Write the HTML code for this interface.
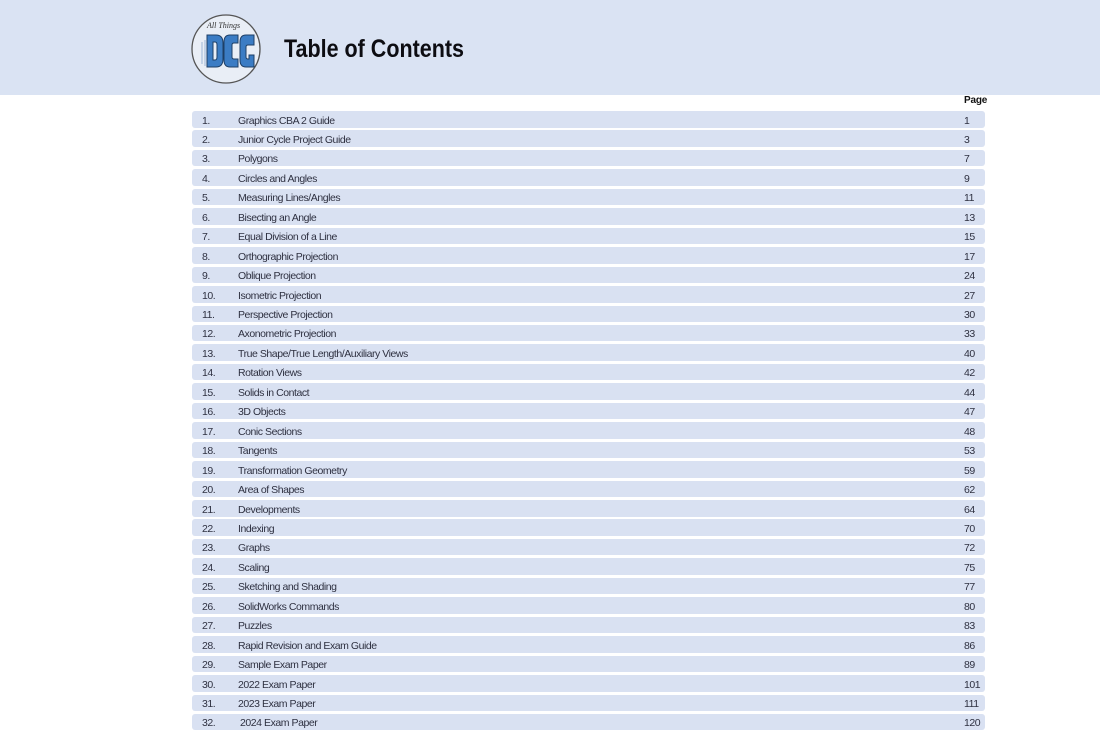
<!DOCTYPE html>
<html>
<head>
<meta charset="utf-8">
<style>
  html,body{margin:0;padding:0;}
  body{width:1100px;height:753px;background:#ffffff;position:relative;overflow:hidden;font-family:"Liberation Sans",sans-serif;}
  .band{position:absolute;left:0;top:0;width:1100px;height:95px;background:#dae3f3;}
  .title{position:absolute;left:284px;top:34px;font-size:25px;font-weight:bold;color:#0d0d12;line-height:30px;white-space:nowrap;transform:scaleX(0.86);transform-origin:0 0;}
  .logo{position:absolute;left:188px;top:12px;}
  .pagehd{position:absolute;left:964px;top:94px;font-size:10px;font-weight:bold;color:#111;line-height:14px;letter-spacing:-0.2px;}
  .row{position:absolute;left:192px;width:793px;height:16.5px;background:#d9e1f2;border-radius:3px;font-size:10.5px;color:#2e3040;letter-spacing:-0.45px;line-height:16.5px;}
  .row span{position:absolute;top:1.5px;white-space:nowrap;}
  .n{left:10px;}
  .t{left:46px;}
  .p{left:772px;}
</style>
</head>
<body>
<div class="band"></div>
<svg class="logo" width="80" height="80" viewBox="0 0 80 80">
  <circle cx="38" cy="37" r="34" fill="#e9eef6" stroke="#555" stroke-width="1.3"/>
  <text x="19" y="16" font-family="Liberation Serif, serif" font-style="italic" font-size="8" fill="#333">All Things</text>
  <path d="M14 30 v22 M17 28 v26" stroke="#8aa9cf" stroke-width="0.8"/>
  <g stroke="#1e3f66" stroke-width="1" fill="#3b7cc4">
    <path d="M19 23 h9 q7 0 7 8 v16 q0 8 -7 8 h-9 z M25 30 v18 h2 q2 0 2 -3 v-12 q0 -3 -2 -3 z" fill-rule="evenodd"/>
    <path d="M50 23 h-8 q-6 0 -6 7 v18 q0 7 6 7 h8 v-8 h-4 q-2 0 -2 -2 v-12 q0 -2 2 -2 h4 z"/>
    <path d="M66 23 h-8 q-6 0 -6 7 v18 q0 7 6 7 h8 v-12 h-5 v4 h-1 q-2 0 -2 -2 v-10 q0 -2 2 -2 h6 z"/>
  </g>
</svg>
<div class="title">Table of Contents</div>
<div class="pagehd">Page</div>

<div class="row" style="top:111px"><span class="n">1.</span><span class="t">Graphics CBA 2 Guide</span><span class="p">1</span></div>
<div class="row" style="top:130.45px"><span class="n">2.</span><span class="t">Junior Cycle Project Guide</span><span class="p">3</span></div>
<div class="row" style="top:149.9px"><span class="n">3.</span><span class="t">Polygons</span><span class="p">7</span></div>
<div class="row" style="top:169.35px"><span class="n">4.</span><span class="t">Circles and Angles</span><span class="p">9</span></div>
<div class="row" style="top:188.8px"><span class="n">5.</span><span class="t">Measuring Lines/Angles</span><span class="p">11</span></div>
<div class="row" style="top:208.25px"><span class="n">6.</span><span class="t">Bisecting an Angle</span><span class="p">13</span></div>
<div class="row" style="top:227.7px"><span class="n">7.</span><span class="t">Equal Division of a Line</span><span class="p">15</span></div>
<div class="row" style="top:247.15px"><span class="n">8.</span><span class="t">Orthographic Projection</span><span class="p">17</span></div>
<div class="row" style="top:266.6px"><span class="n">9.</span><span class="t">Oblique Projection</span><span class="p">24</span></div>
<div class="row" style="top:286.05px"><span class="n">10.</span><span class="t">Isometric Projection</span><span class="p">27</span></div>
<div class="row" style="top:305.5px"><span class="n">11.</span><span class="t">Perspective Projection</span><span class="p">30</span></div>
<div class="row" style="top:324.95px"><span class="n">12.</span><span class="t">Axonometric Projection</span><span class="p">33</span></div>
<div class="row" style="top:344.4px"><span class="n">13.</span><span class="t">True Shape/True Length/Auxiliary Views</span><span class="p">40</span></div>
<div class="row" style="top:363.85px"><span class="n">14.</span><span class="t">Rotation Views</span><span class="p">42</span></div>
<div class="row" style="top:383.3px"><span class="n">15.</span><span class="t">Solids in Contact</span><span class="p">44</span></div>
<div class="row" style="top:402.75px"><span class="n">16.</span><span class="t">3D Objects</span><span class="p">47</span></div>
<div class="row" style="top:422.2px"><span class="n">17.</span><span class="t">Conic Sections</span><span class="p">48</span></div>
<div class="row" style="top:441.65px"><span class="n">18.</span><span class="t">Tangents</span><span class="p">53</span></div>
<div class="row" style="top:461.1px"><span class="n">19.</span><span class="t">Transformation Geometry</span><span class="p">59</span></div>
<div class="row" style="top:480.55px"><span class="n">20.</span><span class="t">Area of Shapes</span><span class="p">62</span></div>
<div class="row" style="top:500px"><span class="n">21.</span><span class="t">Developments</span><span class="p">64</span></div>
<div class="row" style="top:519.45px"><span class="n">22.</span><span class="t">Indexing</span><span class="p">70</span></div>
<div class="row" style="top:538.9px"><span class="n">23.</span><span class="t">Graphs</span><span class="p">72</span></div>
<div class="row" style="top:558.35px"><span class="n">24.</span><span class="t">Scaling</span><span class="p">75</span></div>
<div class="row" style="top:577.8px"><span class="n">25.</span><span class="t">Sketching and Shading</span><span class="p">77</span></div>
<div class="row" style="top:597.25px"><span class="n">26.</span><span class="t">SolidWorks Commands</span><span class="p">80</span></div>
<div class="row" style="top:616.7px"><span class="n">27.</span><span class="t">Puzzles</span><span class="p">83</span></div>
<div class="row" style="top:636.15px"><span class="n">28.</span><span class="t">Rapid Revision and Exam Guide</span><span class="p">86</span></div>
<div class="row" style="top:655.6px"><span class="n">29.</span><span class="t">Sample Exam Paper</span><span class="p">89</span></div>
<div class="row" style="top:675.05px"><span class="n">30.</span><span class="t">2022 Exam Paper</span><span class="p">101</span></div>
<div class="row" style="top:694.5px"><span class="n">31.</span><span class="t">2023 Exam Paper</span><span class="p">111</span></div>
<div class="row" style="top:713.95px"><span class="n">32.</span><span class="t" style="left:48px">2024 Exam Paper</span><span class="p">120</span></div>
</body>
</html>
